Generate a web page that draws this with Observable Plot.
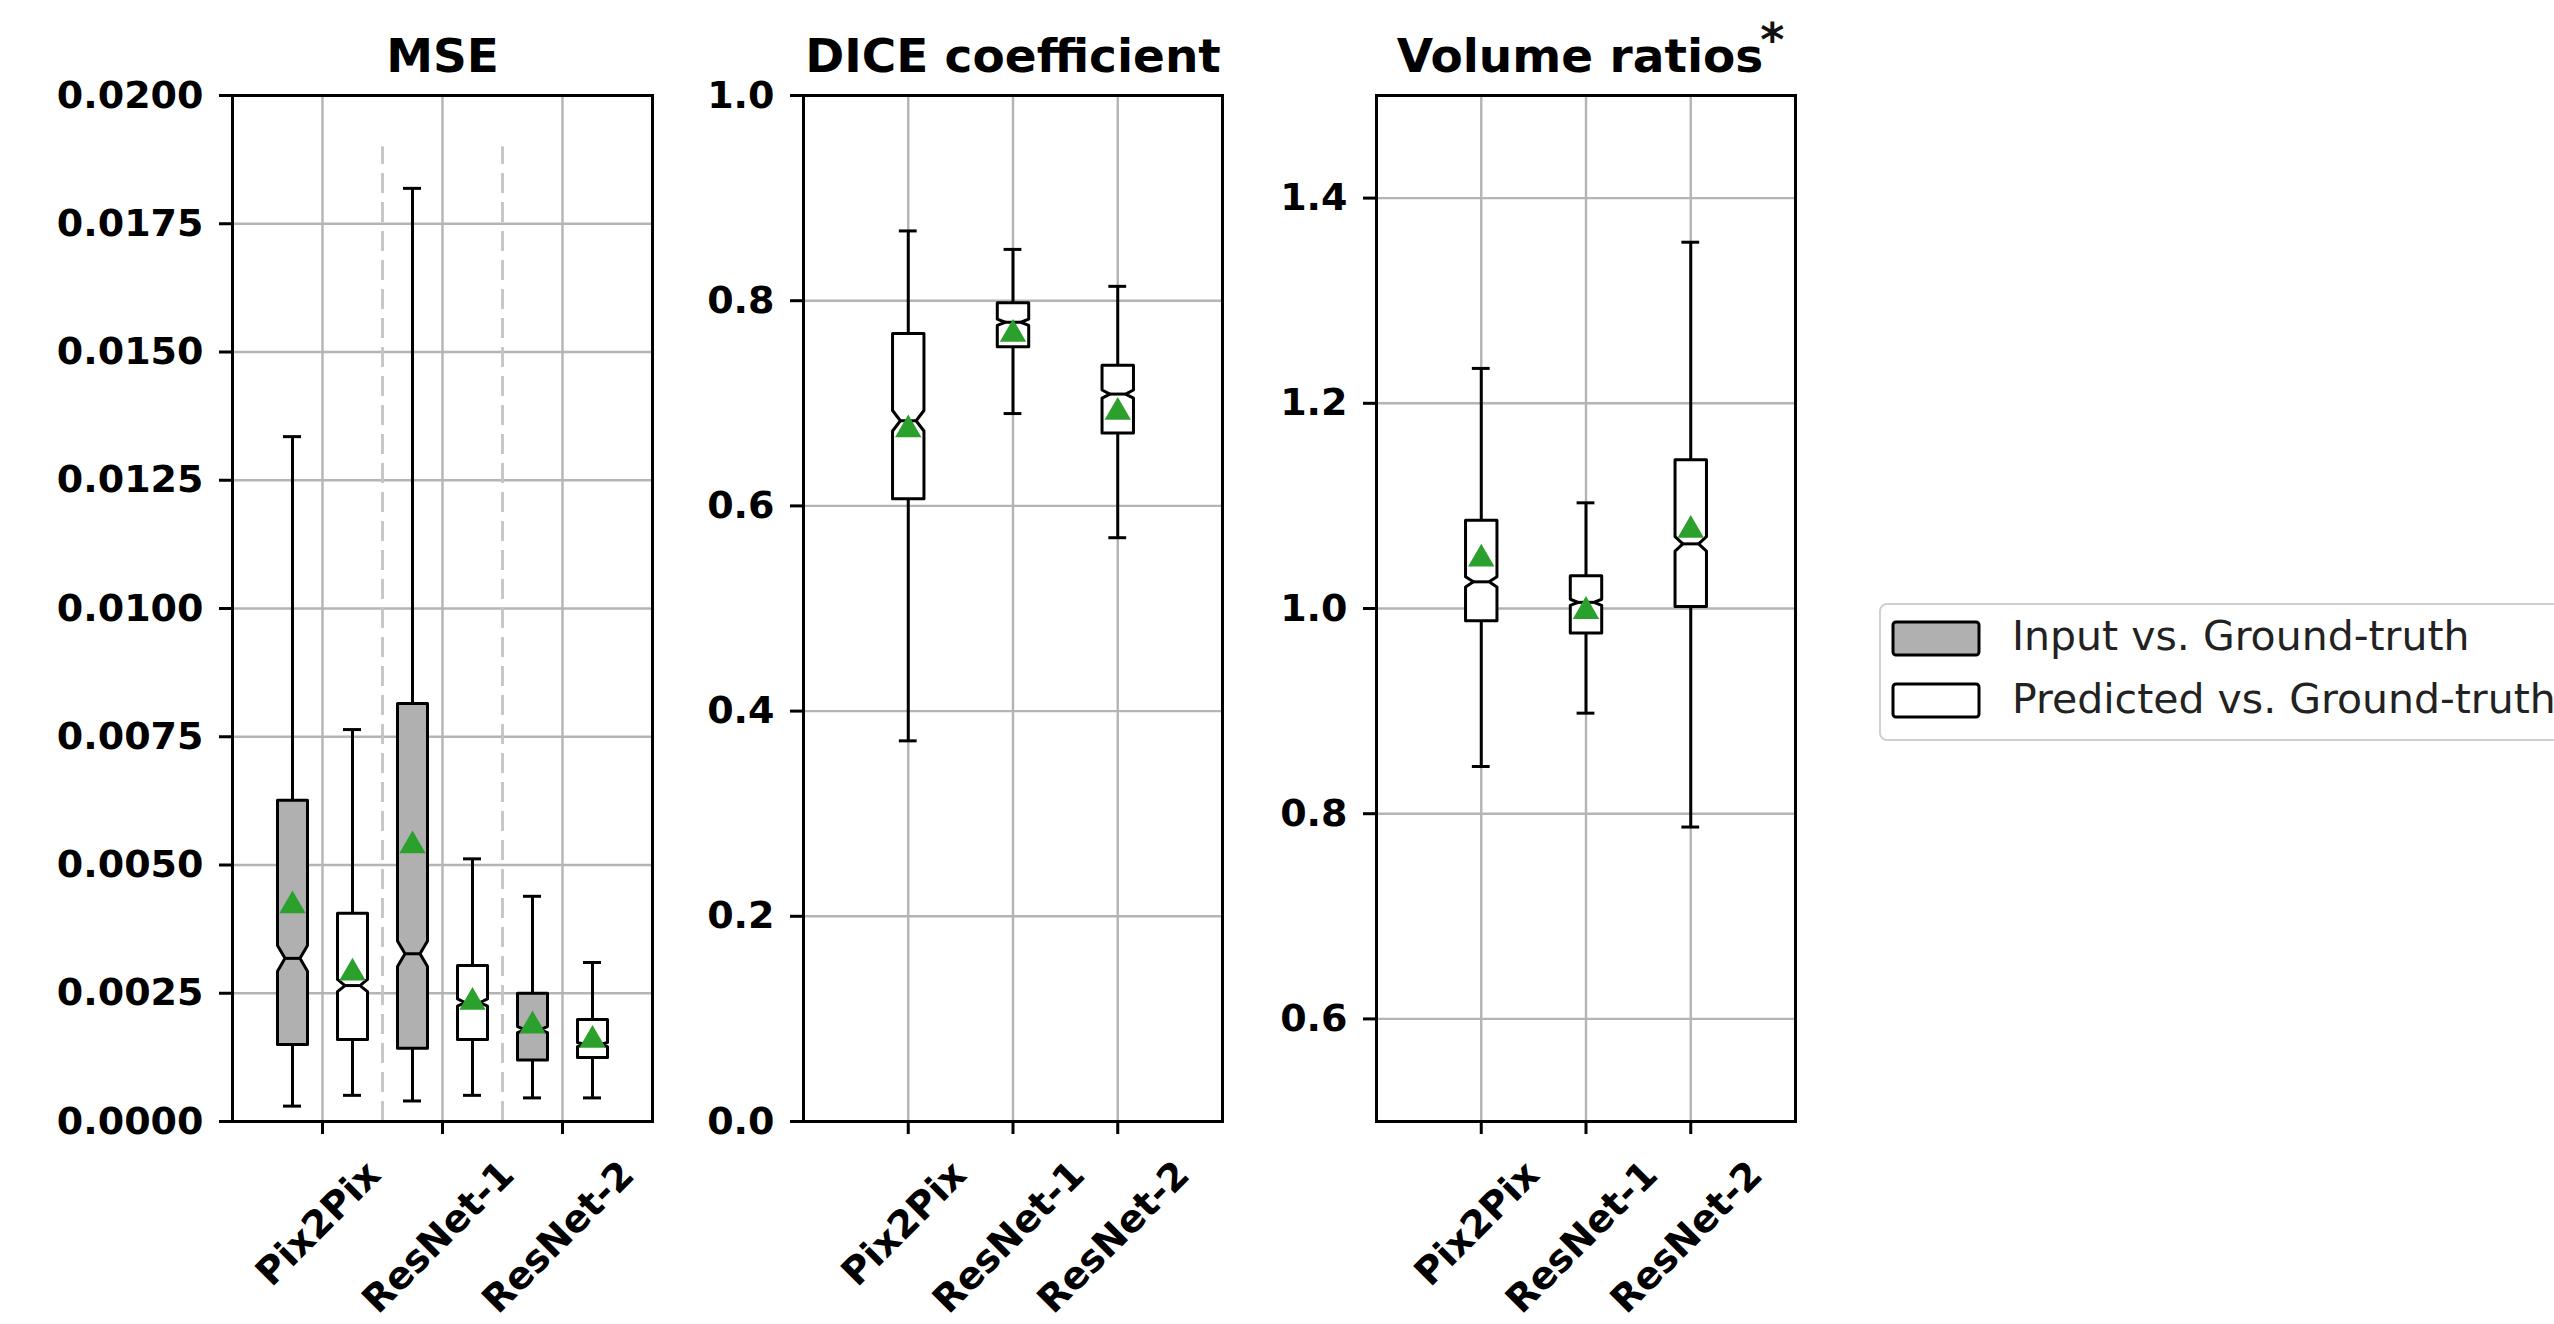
<!DOCTYPE html>
<html>
<head>
<meta charset="utf-8">
<script src="https://cdn.jsdelivr.net/npm/d3@7"></script>
<script src="https://cdn.jsdelivr.net/npm/@observablehq/plot@0.6"></script>
<style>
  html, body { margin: 0; padding: 0; background: #fff; width: 2554px; height: 1324px; overflow: hidden; }
  #page { position: relative; width: 2554px; height: 1324px; font-family: "DejaVu Sans"; }
</style>
</head>
<body>
<div id="page"></div>
<script>
// ---------------- data ----------------
const models = ["Pix2Pix", "ResNet-1", "ResNet-2"];
const groups = ["Input vs. Ground-truth", "Predicted vs. Ground-truth"];

// MSE — Input vs. Ground-truth
const mseInputLow    = [0.00030, 0.00040, 0.00046];
const mseInputQ1     = [0.00150, 0.00143, 0.00120];
const mseInputMedian = [0.00318, 0.00327, 0.00179];
const mseInputNotch  = [0.00025, 0.00025, 0.00006];
const mseInputQ3     = [0.00626, 0.00815, 0.00250];
const mseInputHigh   = [0.01335, 0.01819, 0.00439];
const mseInputMean   = [0.00428, 0.00545, 0.00194];
// MSE — Predicted vs. Ground-truth
const msePredLow     = [0.00051, 0.00051, 0.00046];
const msePredQ1      = [0.00160, 0.00160, 0.00125];
const msePredMedian  = [0.00265, 0.00232, 0.00150];
const msePredNotch   = [0.00012, 0.00007, 0.00004];
const msePredQ3      = [0.00406, 0.00304, 0.00199];
const msePredHigh    = [0.00764, 0.00512, 0.00310];
const msePredMean    = [0.00297, 0.00240, 0.00166];

// DICE coefficient — Predicted vs. Ground-truth
const diceLow    = [0.371, 0.690, 0.569];
const diceQ1     = [0.607, 0.755, 0.671];
const diceMedian = [0.683, 0.779, 0.709];
const diceNotch  = [0.010, 0.003, 0.004];
const diceQ3     = [0.768, 0.798, 0.737];
const diceHigh   = [0.868, 0.850, 0.814];
const diceMean   = [0.678, 0.771, 0.695];

// Volume ratios — Predicted vs. Ground-truth
const volLow    = [0.846, 0.898, 0.787];
const volQ1     = [0.988, 0.976, 1.002];
const volMedian = [1.026, 1.006, 1.063];
const volNotch  = [0.005, 0.003, 0.007];
const volQ3     = [1.086, 1.032, 1.145];
const volHigh   = [1.234, 1.103, 1.357];
const volMean   = [1.052, 1.001, 1.080];

// tick values
const mseTicks  = [0, 0.0025, 0.005, 0.0075, 0.01, 0.0125, 0.015, 0.0175, 0.02];
const diceTicks = [0, 0.2, 0.4, 0.6, 0.8, 1.0];
const volTicks  = [0.6, 0.8, 1.0, 1.2, 1.4];

const titles = ["MSE", "DICE coefficient", "Volume ratios"];
const titleSup = "*";

// ---------------- style ----------------
const GRAY = "#b0b0b0";
const GREEN = "#2ca02c";
const LW = 3;
const FONT = "DejaVu Sans";
const TICK_FS = 38;
const TITLE_FS = 47;
const TOP = 95, BOTTOM = 1121, H = 1324;

const canvas = document.createElement("canvas");
const ctx = canvas.getContext("2d");
function textWidth(s, weight, size) {
  ctx.font = `${weight} ${size}px "${FONT}"`;
  return ctx.measureText(s).width;
}

function makeRecords(pos, lo, q1, med, notch, q3, hi, mean, kind) {
  return models.map((m, i) => ({
    id: kind + "-" + m, model: m, kind, pos: pos[i],
    lo: lo[i], q1: q1[i], med: med[i], n: notch[i], q3: q3[i], hi: hi[i], mean: mean[i]
  }));
}

function polygon(recs, w) {
  const hw = w / 2, ins = w / 4;
  return recs.flatMap(d => [
    {id: d.id, x: d.pos - hw, y: d.q1},
    {id: d.id, x: d.pos + hw, y: d.q1},
    {id: d.id, x: d.pos + hw, y: d.med - d.n},
    {id: d.id, x: d.pos + hw - ins, y: d.med},
    {id: d.id, x: d.pos + hw, y: d.med + d.n},
    {id: d.id, x: d.pos + hw, y: d.q3},
    {id: d.id, x: d.pos - hw, y: d.q3},
    {id: d.id, x: d.pos - hw, y: d.med + d.n},
    {id: d.id, x: d.pos - hw + ins, y: d.med},
    {id: d.id, x: d.pos - hw, y: d.med - d.n}
  ]);
}

function panel(cfg) {
  const {left, width, frameL, frameR, xDomain, yDomain, ticks, fmt, xticks, recs, boxW, capW, title, extra = [], sup} = cfg;
  const marginLeft = frameL - left;
  const marginRight = left + width - frameR;
  const gray = recs.filter(d => d.kind === "input");
  const white = recs.filter(d => d.kind === "pred");
  const labelMarks = models.map((m, i) => {
    const w = textWidth(m, "bold", TICK_FS);
    return Plot.text([{label: m, x: xticks[i]}], {
      x: "x", text: "label", frameAnchor: "bottom", rotate: -45,
      textAnchor: "middle", lineAnchor: "middle",
      dx: -4, dy: 37 + (w + 0.729 * TICK_FS) / (2 * Math.SQRT2),
      fontSize: TICK_FS, fontWeight: "bold", fill: "black"
    });
  });
  const titleMarks = [];
  if (sup) {
    const tw = textWidth(title, "bold", TITLE_FS);
    const sw = textWidth(sup, "bold", 46);
    titleMarks.push(Plot.text([title], {text: d => d, frameAnchor: "top", lineAnchor: "bottom", dy: -23.6, dx: 6 - sw / 2, fontSize: TITLE_FS, fontWeight: "bold", fill: "black"}));
    titleMarks.push(Plot.text([sup], {text: d => d, frameAnchor: "top", lineAnchor: "bottom", textAnchor: "start", dy: -40, dx: 6 - (tw + sw) / 2 + tw - 3, fontSize: 46, fontWeight: "bold", fill: "#111"}));
  } else {
    titleMarks.push(Plot.text([title], {text: d => d, frameAnchor: "top", lineAnchor: "bottom", dy: -23.6, fontSize: TITLE_FS, fontWeight: "bold", fill: "black"}));
  }
  const svg = Plot.plot({
    width, height: H,
    marginTop: TOP, marginBottom: H - BOTTOM, marginLeft, marginRight,
    x: {domain: xDomain},
    y: {domain: yDomain},
    style: {fontFamily: FONT, fontSize: TICK_FS + "px", fontWeight: "bold", color: "black", background: "transparent", overflow: "visible", maxWidth: "none"},
    marks: [
      Plot.gridY(ticks, {stroke: "#b4b4b4", strokeOpacity: 1, strokeWidth: 2.4}),
      Plot.gridX(xticks, {stroke: "#b4b4b4", strokeOpacity: 1, strokeWidth: 2.4}),
      ...extra,
      Plot.line(polygon(gray, boxW), {x: "x", y: "y", z: "id", curve: "linear-closed", fill: GRAY, stroke: "black", strokeWidth: LW, strokeLinejoin: "round"}),
      Plot.line(polygon(white, boxW), {x: "x", y: "y", z: "id", curve: "linear-closed", fill: "white", stroke: "black", strokeWidth: LW, strokeLinejoin: "round"}),
      Plot.ruleX(recs, {x: "pos", y1: "q3", y2: "hi", stroke: "black", strokeWidth: LW}),
      Plot.ruleX(recs, {x: "pos", y1: "lo", y2: "q1", stroke: "black", strokeWidth: LW}),
      Plot.ruleY(recs, {y: "hi", x1: d => d.pos - capW / 2, x2: d => d.pos + capW / 2, stroke: "black", strokeWidth: LW}),
      Plot.ruleY(recs, {y: "lo", x1: d => d.pos - capW / 2, x2: d => d.pos + capW / 2, stroke: "black", strokeWidth: LW}),
      Plot.ruleY(recs, {y: "med", x1: d => d.pos - boxW / 4, x2: d => d.pos + boxW / 4, stroke: "black", strokeWidth: LW}),
      Plot.dot(recs, {x: "pos", y: "mean", symbol: "triangle", r: 9.8, fill: GREEN, stroke: "none", dy: 3.8}),
      Plot.frame({stroke: "black", strokeWidth: LW}),
      Plot.axisY(ticks, {tickSize: 13, tickPadding: 16, tickFormat: fmt, strokeWidth: LW, fontSize: TICK_FS, fontWeight: "bold", label: null}),
      Plot.axisX(xticks, {tickSize: 13, tickFormat: () => "", strokeWidth: LW, label: null}),
      ...labelMarks,
      ...titleMarks
    ]
  });
  svg.style.position = "absolute";
  svg.style.left = left + "px";
  svg.style.top = "0px";
  document.getElementById("page").appendChild(svg);
}

// MSE panel: input at 2i+1, predicted at 2i+2
const mseInPos = models.map((m, i) => 2 * i + 1);
const msePrPos = models.map((m, i) => 2 * i + 2);
const mseRecs = [
  ...makeRecords(mseInPos, mseInputLow, mseInputQ1, mseInputMedian, mseInputNotch, mseInputQ3, mseInputHigh, mseInputMean, "input"),
  ...makeRecords(msePrPos, msePredLow, msePredQ1, msePredMedian, msePredNotch, msePredQ3, msePredHigh, msePredMean, "pred")
];
const mseXticks = models.map((m, i) => (mseInPos[i] + msePrPos[i]) / 2);
const mseSeparators = models.slice(1).map((m, i) => (msePrPos[i] + mseInPos[i + 1]) / 2);

panel({
  left: 0, width: 700, frameL: 232, frameR: 652,
  xDomain: [0, 7], yDomain: [0, 0.02], ticks: mseTicks, fmt: d3.format(".4f"),
  xticks: mseXticks, recs: mseRecs, boxW: 0.5, capW: 0.3, title: titles[0],
  extra: [Plot.ruleX(mseSeparators, {x: d => d, y1: 0, y2: 0.019, stroke: "#c4c4c4", strokeWidth: 2.8, strokeDasharray: "20,9"})]
});

const simplePos = models.map((m, i) => i + 1);
panel({
  left: 700, width: 560, frameL: 803, frameR: 1222,
  xDomain: [0, 4], yDomain: [0, 1], ticks: diceTicks, fmt: d3.format(".1f"),
  xticks: simplePos,
  recs: makeRecords(simplePos, diceLow, diceQ1, diceMedian, diceNotch, diceQ3, diceHigh, diceMean, "pred"),
  boxW: 0.3, capW: 0.17, title: titles[1]
});

panel({
  left: 1260, width: 600, frameL: 1376, frameR: 1795,
  xDomain: [0, 4], yDomain: [0.5, 1.5], ticks: volTicks, fmt: d3.format(".1f"),
  xticks: simplePos,
  recs: makeRecords(simplePos, volLow, volQ1, volMedian, volNotch, volQ3, volHigh, volMean, "pred"),
  boxW: 0.3, capW: 0.17, title: titles[2], sup: titleSup
});

// ---------------- legend ----------------
const ns = "http://www.w3.org/2000/svg";
const leg = document.createElementNS(ns, "svg");
leg.setAttribute("width", 680);
leg.setAttribute("height", 142);
leg.style.position = "absolute";
leg.style.left = "1878px";
leg.style.top = "602px";
leg.style.overflow = "hidden";
function el(tag, attrs, text) {
  const e = document.createElementNS(ns, tag);
  for (const k in attrs) e.setAttribute(k, attrs[k]);
  if (text != null) e.textContent = text;
  leg.appendChild(e);
  return e;
}
el("rect", {x: 2, y: 2, width: 760, height: 136, rx: 7, fill: "white", stroke: "#d0d0d0", "stroke-width": 2});
const swatchFill = [GRAY, "white"];
groups.forEach((g, i) => {
  el("rect", {x: 15, y: 20 + i * 62, width: 86, height: 33, rx: 3, fill: swatchFill[i], stroke: "black", "stroke-width": LW});
  el("text", {x: 134, y: 48 + i * 63, "font-family": FONT, "font-size": 41, fill: "#222"}, g);
});
document.getElementById("page").appendChild(leg);
</script>
</body>
</html>
